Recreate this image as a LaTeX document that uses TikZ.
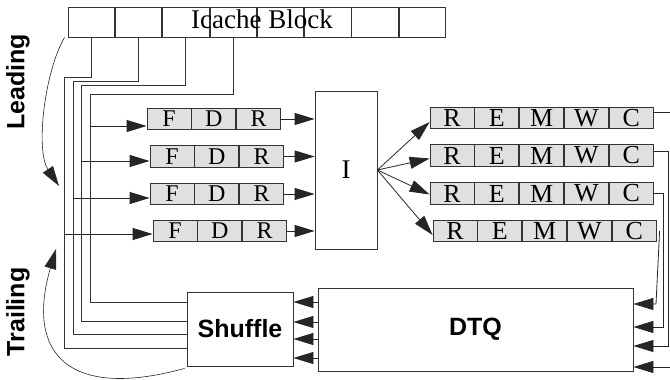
\documentclass[tikz,border=0pt]{standalone}
\usepackage{fontspec}
\setmainfont{Liberation Serif}
\setsansfont{Liberation Sans}
\usetikzlibrary{arrows.meta, positioning}

\begin{document}
\begin{tikzpicture}[
        x=1pt, y=-1pt,
        node distance=0pt,
        cell/.style={rectangle, draw=black!80, line width=0.8pt, minimum width=46.5pt, minimum height=30pt, inner sep=0pt},
        front/.style={rectangle, draw=black!80, fill=black!12, line width=0.8pt, minimum width=44pt, minimum height=21.5pt, inner sep=0pt, font=\fontsize{24}{24}\selectfont},
        back/.style={front, font=\fontsize{26}{26}\selectfont},
        unit/.style={rectangle, draw=black!80, line width=0.8pt, font=\sffamily\bfseries\fontsize{25}{25}\selectfont},
        side/.style={font=\sffamily\bfseries\fontsize{25}{25}\selectfont, rotate=90},
        wire/.style={line width=0.8pt, draw=black!80},
        arrow/.style={-{Triangle[length=20pt, width=12pt]}, line width=0.8pt, draw=black!85}
    ]
    \useasboundingbox (0,0) rectangle (670,380);

    % icache block
    \node (ic1) [cell] at (91.25,22) {};
    \node (ic2) [cell, right=of ic1] {};
    \node (ic3) [cell, right=of ic2] {};
    \node (ic4) [cell, right=of ic3] {};
    \node (ic5) [cell, right=of ic4] {};
    \node (ic6) [cell, right=of ic5] {};
    \node (ic7) [cell, right=of ic6] {};
    \node (ic8) [cell, right=of ic7] {};
    \node (icache) [anchor=base, font=\fontsize{27}{27}\selectfont] at (262,28) {Icache Block};

    % front ends
    \node (f1) [front] at (169,119) {F};
    \node (d1) [front, right=of f1] {D};
    \node (rn1) [front, right=of d1] {R};
    \node (f2) [front] at (172,156.5) {F};
    \node (d2) [front, right=of f2] {D};
    \node (rn2) [front, right=of d2] {R};
    \node (f3) [front] at (172,194) {F};
    \node (d3) [front, right=of f3] {D};
    \node (rn3) [front, right=of d3] {R};
    \node (f4) [front] at (175,231) {F};
    \node (d4) [front, right=of f4] {D};
    \node (rn4) [front, right=of d4] {R};

    \node (issue) [rectangle, draw=black!80, line width=0.8pt, minimum width=62pt, minimum height=158pt, font=\fontsize{27}{27}\selectfont] at (346,170) {I};

    % back ends
    \node (rr1) [back] at (452,118) {R};
    \node (e1) [back, right=of rr1] {E};
    \node (m1) [back, right=of e1] {M};
    \node (w1) [back, right=of m1] {W};
    \node (cm1) [back, right=of w1] {C};
    \node (rr2) [back] at (452,155.5) {R};
    \node (e2) [back, right=of rr2] {E};
    \node (m2) [back, right=of e2] {M};
    \node (w2) [back, right=of m2] {W};
    \node (cm2) [back, right=of w2] {C};
    \node (rr3) [back] at (452,193.5) {R};
    \node (e3) [back, right=of rr3] {E};
    \node (m3) [back, right=of e3] {M};
    \node (w3) [back, right=of m3] {W};
    \node (cm3) [back, right=of w3] {C};
    \node (rr4) [back] at (455,231) {R};
    \node (e4) [back, right=of rr4] {E};
    \node (m4) [back, right=of e4] {M};
    \node (w4) [back, right=of m4] {W};
    \node (cm4) [back, right=of w4] {C};

    \node (shuffle) [unit, minimum width=106pt, minimum height=74pt] at (240,329) {Shuffle};
    \node (dtq) [unit, minimum width=315pt, minimum height=83pt] at (475.5,329.5) {DTQ};

    \node (leading) [side] at (18,82) {Leading};
    \node (trailing) [side] at (18,312) {Trailing};
    \coordinate (lead) at (59,186);
    \coordinate (trail) at (56,249);

    % fetch wires
    \draw [wire] (ic1.south) |- (64,77) -- (64,348) -- (shuffle.west |- 0,348);
    \draw [wire] (ic2.south) |- (73,81) -- (73,334) -- (shuffle.west |- 0,334);
    \draw [wire] (ic3.south) |- (81,85) -- (81,321) -- (shuffle.west |- 0,321);
    \draw [wire] (ic4.south) |- (90,94) -- (90,302) -- (shuffle.west |- 0,302);
    \draw [arrow] (90,126) -- (f1.west |- 0,126);
    \draw [arrow] (81,161) -- (f2.west |- 0,161);
    \draw [arrow] (73,198) -- (f3.west |- 0,198);
    \draw [arrow] (64,234) -- (f4.west |- 0,234);

    \draw [arrow] (rn1.east) -- (rn1.east -| issue.west);
    \draw [arrow] (rn2.east) -- (rn2.east -| issue.west);
    \draw [arrow] (rn3.east) -- (rn3.east -| issue.west);
    \draw [arrow] (rn4.east) -- (rn4.east -| issue.west);

    \draw [arrow] (issue.east) -- ([yshift=-4pt]rr1.west);
    \draw [arrow] (issue.east) -- ([yshift=-3pt]rr2.west);
    \draw [arrow] (issue.east) -- ([yshift=-1pt]rr3.west);
    \draw [arrow] (issue.east) -- ([yshift=-4pt]rr4.west);

    % commit wires
    \draw [arrow] ([yshift=6pt]cm1.east) -| (674,367) -- (dtq.east |- 0,367);
    \draw [arrow] ([yshift=4.5pt]cm2.east) -| (668,346) -- (dtq.east |- 0,346);
    \draw [arrow] (cm3.east) -| (663,327) -- (dtq.east |- 0,327);
    \draw [arrow] ([xshift=3pt]cm4.east) -- (656,304) -- (dtq.east |- 0,304);

    \draw [arrow] (dtq.west |- 0,302) -- (shuffle.east |- 0,302);
    \draw [arrow] (dtq.west |- 0,322) -- (shuffle.east |- 0,322);
    \draw [arrow] (dtq.west |- 0,339) -- (shuffle.east |- 0,339);
    \draw [arrow] (dtq.west |- 0,358) -- (shuffle.east |- 0,358);

    \draw [arrow, line width=0.6pt] ([xshift=-3pt]ic1.south west) .. controls (45,70) and (35,150) .. (lead);
    \draw [arrow, line width=0.6pt] ([xshift=-2pt, yshift=-2pt]shuffle.south west) .. controls (70,400) and (25,355) .. (trail);

\end{tikzpicture}
\end{document}
